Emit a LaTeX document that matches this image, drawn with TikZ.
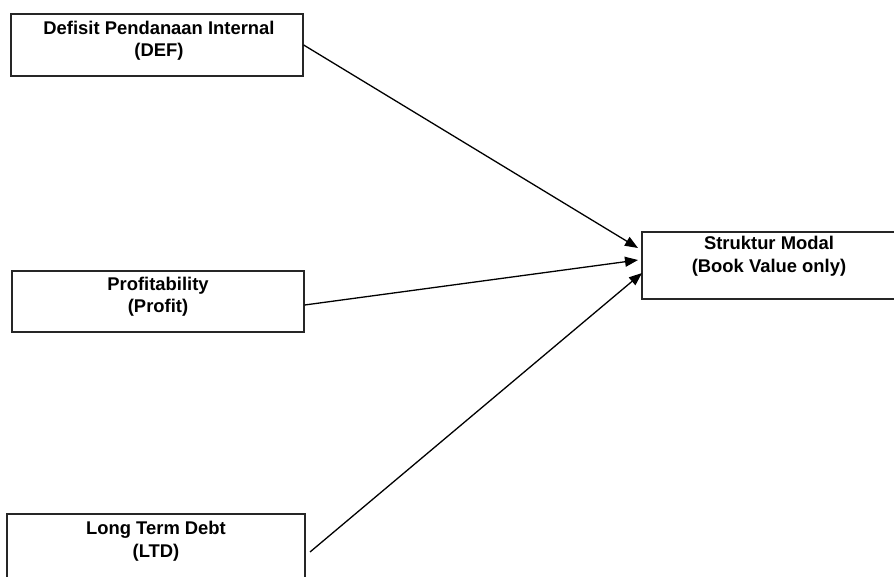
\documentclass[tikz,border=0pt]{standalone}
\usepackage{fontspec}
\setmainfont{Liberation Sans}
\usetikzlibrary{arrows.meta}
\begin{document}
\begin{tikzpicture}[x=1pt,y=-1pt,
  boxst/.style={draw=black!85, line width=1.3pt, rectangle, inner sep=0pt},
  lbl/.style={font=\fontsize{18.4}{22.5}\selectfont\bfseries, align=center, inner sep=0pt},
  conn/.style={line width=1.3pt, -{Triangle[length=13pt,width=10pt]}}]
\useasboundingbox (0,0) rectangle (894,577);
\clip (0,0) rectangle (894,577);
% boxes
\node[boxst, minimum width=292pt, minimum height=62pt] (def) at (157,45) {};
\node[boxst, minimum width=292pt, minimum height=61pt] (prof) at (158,301.5) {};
\node[boxst, minimum width=298pt, minimum height=70pt] (ltd) at (156,549) {};
\node[boxst, minimum width=262pt, minimum height=67pt] (sm) at (773,265.5) {};
% labels
\node[lbl] (tdef) at (159,40.5) {Defisit Pendanaan Internal\\(DEF)};
\node[lbl] (tprof) at (158,296.5) {Profitability\\(Profit)};
\node[lbl] (tltd) at (156,541) {Long Term Debt\\(LTD)};
\node[lbl] (tsm) at (769,256) {Struktur Modal\\(Book Value only)};
% connector ends
\coordinate (s3) at (310,552);
\coordinate (e1) at (638,248);
\coordinate (e2) at (638,260);
\coordinate (e3) at (642,273);
\draw[conn] (def.east) -- (e1);
\draw[conn] ([yshift=-3.5pt]prof.east) -- (e2);
\draw[conn] (s3) -- (e3);
\end{tikzpicture}
\end{document}
